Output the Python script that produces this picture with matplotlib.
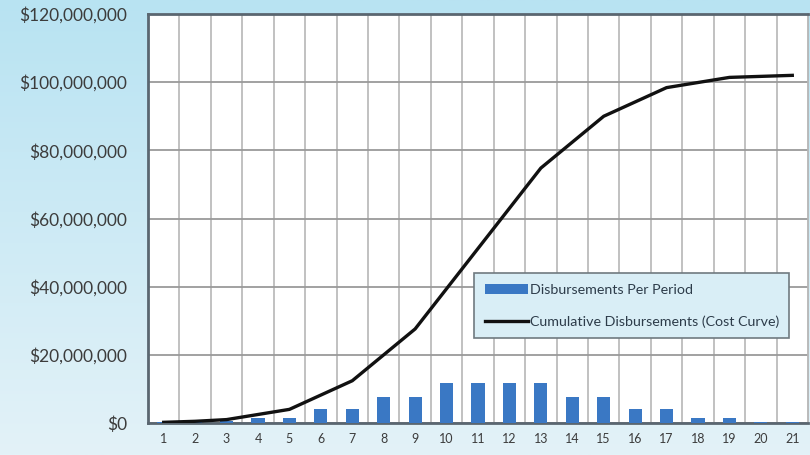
import numpy as np
import matplotlib
matplotlib.use('Agg')
import matplotlib.pyplot as plt
from matplotlib.ticker import FuncFormatter, FixedLocator
from matplotlib.colors import LinearSegmentedColormap

# disbursement schedule, dollars per period
periods = list(range(1, 22))
per_period = [0.2e6, 0.3e6, 0.5e6, 1.5e6, 1.5e6, 4.2e6, 4.2e6, 7.6e6, 7.6e6,
              11.8e6, 11.8e6, 11.8e6, 11.8e6, 7.6e6, 7.6e6, 4.2e6, 4.2e6,
              1.5e6, 1.5e6, 0.3e6, 0.3e6]
cumulative = np.cumsum(per_period)

y_ticks = [0, 20e6, 40e6, 60e6, 80e6, 100e6, 120e6]

plt.rcParams['font.family'] = ['Lato', 'DejaVu Sans']

fig = plt.figure(figsize=(8.1, 4.55), dpi=100)

# soft blue gradient behind everything
bg = fig.add_axes([0, 0, 1, 1], zorder=-10)
grad = np.linspace(0, 1, 256).reshape(-1, 1)
cmap = LinearSegmentedColormap.from_list('bg', ['#b8e3f2', '#e3f2f8'])
bg.imshow(grad, aspect='auto', cmap=cmap, extent=[0, 1, 0, 1])
bg.axis('off')

ax = fig.add_axes([148 / 810, 32 / 455, 660 / 810, 409 / 455])
ax.set_facecolor('white')

bars = ax.bar(periods, per_period, width=0.42, color='#3a78c4', zorder=3)
line, = ax.plot(periods, cumulative, color='#111111', lw=2.4, zorder=4)

ax.set_xlim(0.5, 21.5)
ax.set_ylim(0, 120e6)
ax.set_xticks(periods)
ax.xaxis.set_minor_locator(FixedLocator(np.arange(1.5, 21.5, 1)))
ax.set_yticks(y_ticks)
ax.yaxis.set_major_formatter(FuncFormatter(lambda v, p: '${:,.0f}'.format(v)))

ax.grid(False)
ax.grid(True, which='minor', axis='x', color='#bcbcbc', lw=1.3, zorder=0)
ax.grid(True, which='major', axis='y', color='#9a9a9a', lw=1.3, zorder=0)

for side in ['left', 'bottom', 'top']:
    ax.spines[side].set_color('#5a6670')
    ax.spines[side].set_linewidth(2.0)
ax.spines['right'].set_color('#b5b5b5')
ax.spines['right'].set_linewidth(1.3)

ax.tick_params(axis='both', which='both', length=0)
ax.tick_params(axis='y', labelsize=12.5, labelcolor='#3c3c3c', pad=15)
ax.tick_params(axis='x', labelsize=9, labelcolor='#3c3c3c', pad=7)

# legend box placed in pixel terms inside the axes
lx, ly, lw_, lh = 326 / 660, (423 - 343) / 409, 315 / 660, 70 / 409
leg = ax.legend([bars, line],
                ['Disbursements Per Period', 'Cumulative Disbursements (Cost Curve)'],
                loc='upper left', bbox_to_anchor=(lx, ly, lw_, lh), mode='expand',
                fontsize=10.3, frameon=True, fancybox=False, handlelength=3.0,
                handletextpad=0.15, labelspacing=1.35, borderpad=0.75,
                borderaxespad=0)
leg.get_frame().set_facecolor('#d9eef6')
leg.get_frame().set_edgecolor('#707a80')
leg.get_frame().set_linewidth(1.2)
leg.get_frame().set_alpha(1)
for t in leg.get_texts():
    t.set_color('#2d3c4a')

fig.savefig('out.png', dpi=100)
